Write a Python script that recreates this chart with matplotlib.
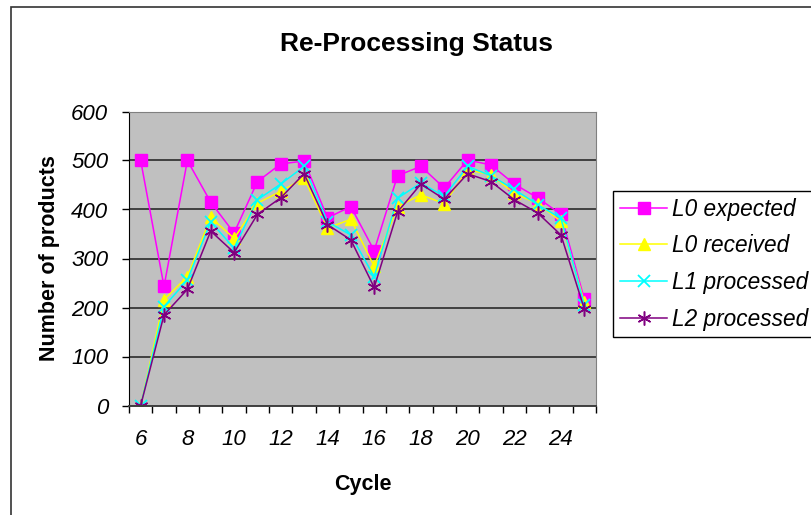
import matplotlib
matplotlib.use('Agg')
import matplotlib.pyplot as plt
from matplotlib.patches import Rectangle

plt.rcParams['font.family'] = ['Liberation Sans', 'DejaVu Sans']

cycles = list(range(6, 26))
l0_expected = [500, 243, 500, 415, 352, 457, 493, 499, 383, 406,
               316, 469, 488, 444, 501, 491, 452, 424, 390, 217]
l0_received = [0, 216, 263, 384, 341, 413, 437, 464, 362, 380,
               284, 406, 430, 412, 481, 471, 433, 412, 376, 211]
l1_processed = [0, 202, 256, 375, 321, 420, 452, 488, 375, 348,
                263, 423, 454, 427, 488, 469, 441, 410, 382, 205]
l2_processed = [0, 185, 237, 356, 312, 390, 424, 473, 369, 338,
                241, 395, 452, 421, 473, 457, 420, 393, 348, 197]
series_names = ['L0 expected', 'L0 received', 'L1 processed', 'L2 processed']

fig = plt.figure(figsize=(8.12, 5.15), dpi=100)
ax = fig.add_axes([129/812, 1-405.5/515, (596-129)/812, (405.5-111.5)/515])
ax.set_facecolor('#C0C0C0')

# outer chart frame (cut by the image at right/bottom)
fig.add_artist(Rectangle((11/812, -0.1), 1.2, 1.1 - 7/515, transform=fig.transFigure,
                         fill=False, edgecolor='#333333', linewidth=1.2))

ax.plot(cycles, l0_expected, color='#FF00FF', marker='s', markersize=8, lw=1.1,
        label=series_names[0])
ax.plot(cycles, l0_received, color='#FFFF00', marker='^', markersize=9, lw=1.1,
        label=series_names[1])
ax.plot(cycles, l1_processed, color='#00FFFF', marker='x', markersize=8, mew=1.3, lw=1.1,
        label=series_names[2])
ax.plot(cycles, l2_processed, color='#800080', marker=(6, 2, 0), markersize=10, mew=1.1, lw=1.1,
        label=series_names[3])

ax.set_xlim(5.5, 25.5)
ax.set_ylim(0, 600)
ax.set_yticks(range(0, 601, 100))
ax.yaxis.grid(True, color='#404040', lw=1.4)
ax.set_axisbelow(True)

ax.set_xticks(range(6, 25, 2))
ax.set_xticks([c - 0.5 for c in cycles] + [25.5], minor=True)
ax.tick_params(axis='x', which='major', length=0, pad=17, labelsize=16)
ax.tick_params(axis='x', which='minor', length=5, width=1, color='black')
ax.tick_params(axis='y', length=5, width=1, pad=10, labelsize=16)
for lab in ax.get_xticklabels() + ax.get_yticklabels():
    lab.set_fontstyle('italic')

for side in ['top', 'right']:
    ax.spines[side].set_color('#808080')
ax.spines['left'].set_color('black')
ax.spines['bottom'].set_color('#404040')
ax.spines['bottom'].set_linewidth(1.4)

ax.set_xlabel('Cycle', fontsize=15.5, fontweight='bold', labelpad=17)
ax.set_ylabel('Number of products', fontsize=15.5, fontweight='bold', labelpad=8)

fig.text(417/812, 1-44/515, 'Re-Processing Status', fontsize=19, fontweight='bold',
         ha='center', va='center')

leg = ax.legend(loc='upper left', bbox_to_anchor=(613/812, 1-191/515),
                bbox_transform=fig.transFigure, borderaxespad=0, fancybox=False,
                edgecolor='black', framealpha=1, handlelength=2.1, handletextpad=0.2,
                labelspacing=0.6, borderpad=0.3,
                prop={'style': 'italic', 'size': 16.3})
leg.get_frame().set_linewidth(1.0)

fig.savefig('out.png', dpi=100)
